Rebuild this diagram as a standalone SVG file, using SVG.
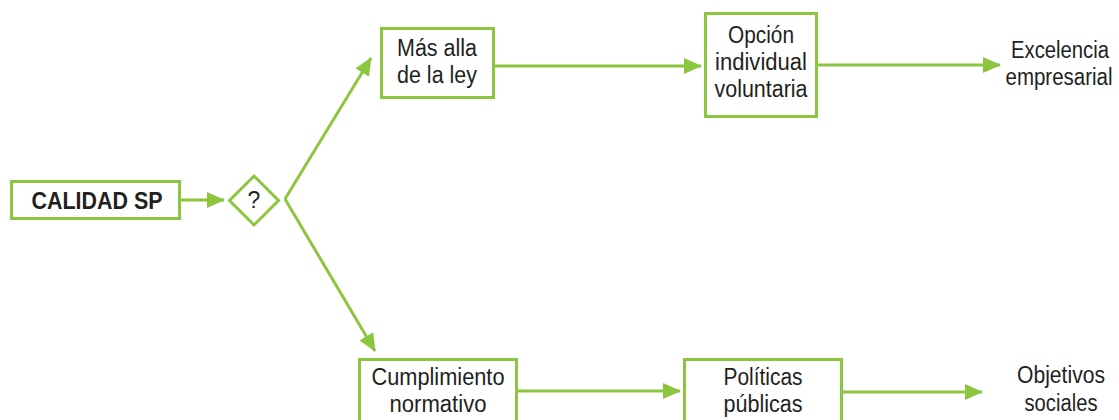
<svg xmlns="http://www.w3.org/2000/svg" width="1119" height="420" viewBox="0 0 1119 420">
<style>
.box{fill:#fff;stroke:#8cc63f;stroke-width:3}
.ln{stroke:#8cc63f;stroke-width:3;fill:none}
.t{font-family:"Liberation Sans",Arial,sans-serif;font-size:23px;fill:#231f20;text-anchor:middle}
.b{font-weight:bold;font-size:23px}
</style>
<defs>
<marker id="ah" markerUnits="userSpaceOnUse" markerWidth="18" markerHeight="16" refX="17" refY="8" orient="auto">
<path d="M0,0 L18,8 L0,16 Z" fill="#8cc63f"/>
</marker>
</defs>
<rect width="1119" height="420" fill="#fff"/>
<g id="connectors">
<line class="ln" x1="180" y1="200" x2="224" y2="200" marker-end="url(#ah)"/>
<line class="ln" x1="285" y1="199" x2="371" y2="58" marker-end="url(#ah)"/>
<line class="ln" x1="285" y1="199" x2="375" y2="351" marker-end="url(#ah)"/>
<line class="ln" x1="494" y1="66" x2="701" y2="66" marker-end="url(#ah)"/>
<line class="ln" x1="817" y1="65" x2="1000" y2="65" marker-end="url(#ah)"/>
<line class="ln" x1="517" y1="391" x2="680" y2="391" marker-end="url(#ah)"/>
<line class="ln" x1="842" y1="392" x2="982" y2="392" marker-end="url(#ah)"/>
</g>
<g id="calidad">
<rect class="box" x="11.5" y="181.5" width="168" height="37"/>
<text class="t b" x="97" y="209" textLength="131" lengthAdjust="spacingAndGlyphs">CALIDAD SP</text>
</g>
<g id="decision">
<polygon class="box" points="254,176 278.5,200.5 254,225 229.5,200.5"/>
<text class="t" x="254" y="208">?</text>
</g>
<g id="mas-alla">
<rect class="box" x="381.5" y="28.5" width="112" height="69"/>
<text class="t" x="437" y="56" textLength="80" lengthAdjust="spacingAndGlyphs">Más alla</text>
<text class="t" x="437" y="83" textLength="80" lengthAdjust="spacingAndGlyphs">de la ley</text>
</g>
<g id="opcion">
<rect class="box" x="705.5" y="13.5" width="111" height="103"/>
<text class="t" x="761" y="43" textLength="66" lengthAdjust="spacingAndGlyphs">Opción</text>
<text class="t" x="761" y="70" textLength="92" lengthAdjust="spacingAndGlyphs">individual</text>
<text class="t" x="761" y="97" textLength="93" lengthAdjust="spacingAndGlyphs">voluntaria</text>
</g>
<g id="excelencia">
<text class="t" x="1060" y="58" textLength="98" lengthAdjust="spacingAndGlyphs">Excelencia</text>
<text class="t" x="1059" y="85" textLength="107" lengthAdjust="spacingAndGlyphs">empresarial</text>
</g>
<g id="cumplimiento">
<rect class="box" x="359.5" y="359.5" width="157" height="70"/>
<text class="t" x="438" y="385" textLength="133" lengthAdjust="spacingAndGlyphs">Cumplimiento</text>
<text class="t" x="438" y="412" textLength="97" lengthAdjust="spacingAndGlyphs">normativo</text>
</g>
<g id="politicas">
<rect class="box" x="684.5" y="359.5" width="157" height="70"/>
<text class="t" x="763" y="385" textLength="79" lengthAdjust="spacingAndGlyphs">Políticas</text>
<text class="t" x="763" y="412" textLength="79" lengthAdjust="spacingAndGlyphs">públicas</text>
</g>
<g id="objetivos">
<text class="t" x="1061" y="383" textLength="88" lengthAdjust="spacingAndGlyphs">Objetivos</text>
<text class="t" x="1061" y="411" textLength="73" lengthAdjust="spacingAndGlyphs">sociales</text>
</g>
</svg>
